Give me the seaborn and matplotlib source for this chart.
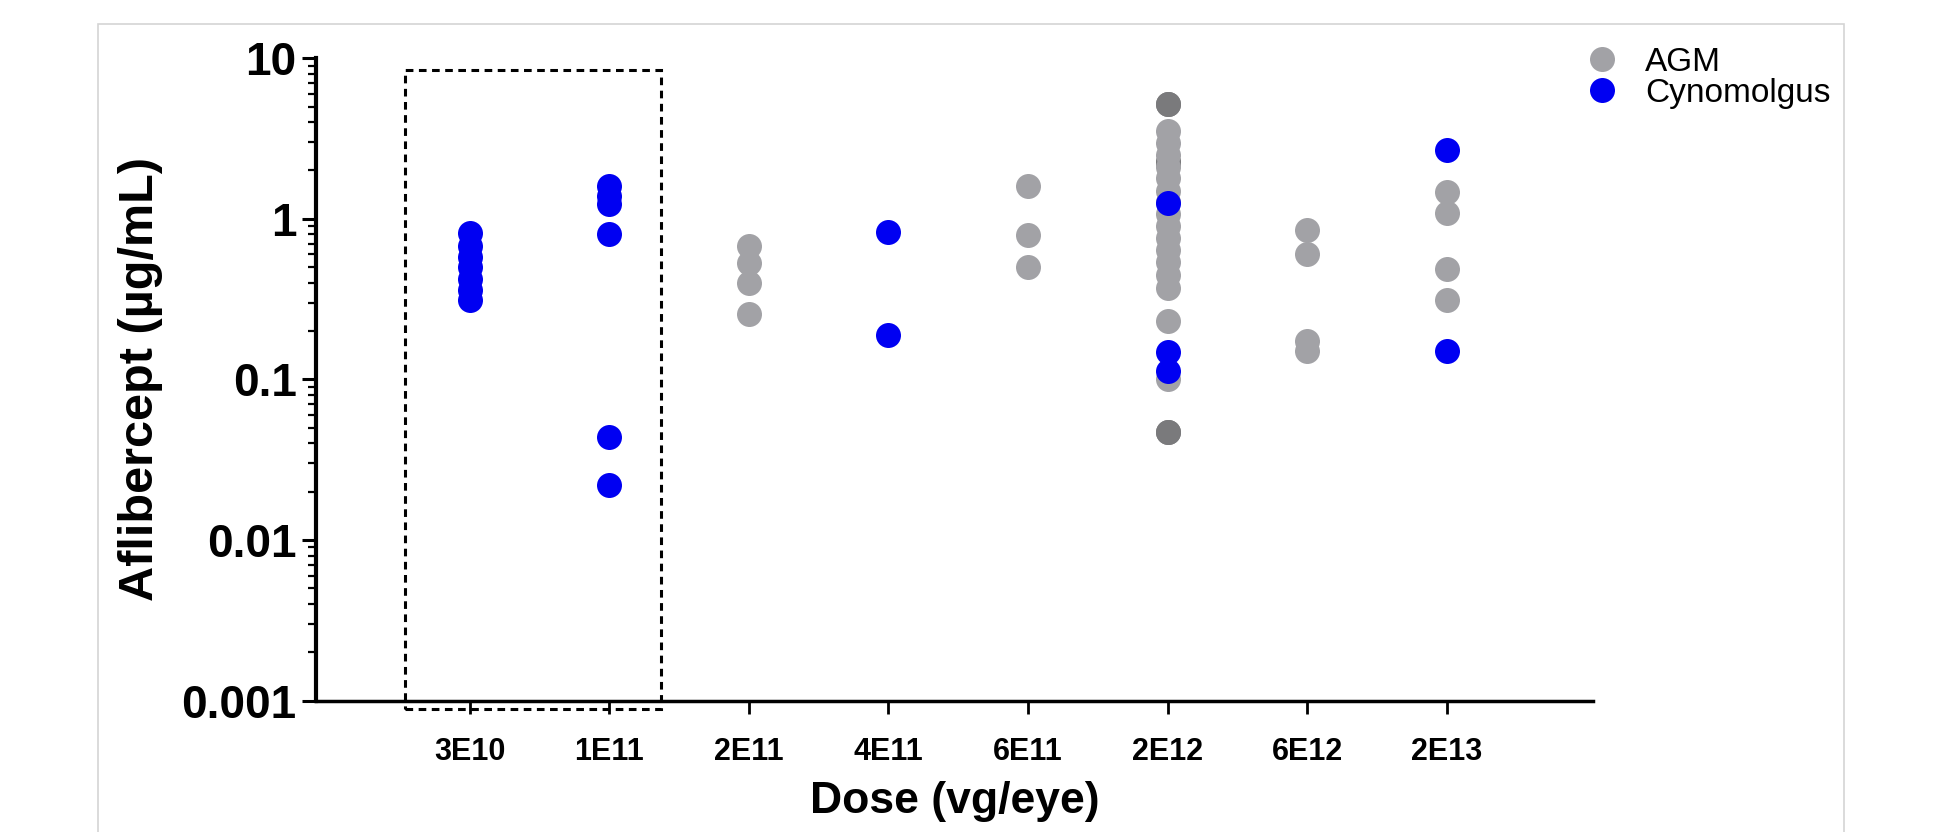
import numpy as np
import pandas as pd
import matplotlib
matplotlib.use("Agg")
import matplotlib.pyplot as plt
import matplotlib.ticker as ticker
from matplotlib import font_manager
from matplotlib.lines import Line2D
from matplotlib.patches import Rectangle
import seaborn as sns

# --- data ---
doses = ['3E10', '1E11', '2E11', '4E11', '6E11', '2E12', '6E12', '2E13']

cyno_3e10 = [0.82, 0.68, 0.58, 0.50, 0.42, 0.36, 0.31]
cyno_1e11 = [1.60, 1.39, 1.23, 0.81, 0.044, 0.022]
agm_2e11 = [0.68, 0.53, 0.40, 0.256]
cyno_4e11 = [0.83, 0.19]
agm_6e11 = [1.60, 0.79, 0.50]
agm_2e12 = [5.2, 5.2, 3.5, 2.95, 2.5, 2.25, 2.25, 2.1, 1.8, 1.5, 1.27, 1.07, 0.9,
            0.76, 0.64, 0.54, 0.45, 0.37, 0.23, 0.10, 0.047, 0.047]
cyno_2e12 = [1.25, 0.148, 0.113]
agm_6e12 = [0.85, 0.60, 0.173, 0.151]
agm_2e13 = [1.47, 1.08, 0.49, 0.31]
cyno_2e13 = [2.69, 0.151]

agm_groups = {'2E11': agm_2e11, '6E11': agm_6e11, '2E12': agm_2e12,
              '6E12': agm_6e12, '2E13': agm_2e13}
cyno_groups = {'3E10': cyno_3e10, '1E11': cyno_1e11, '4E11': cyno_4e11,
               '2E12': cyno_2e12, '2E13': cyno_2e13}

rows = []
for d, vals in agm_groups.items():
    rows += [(d, v, 'AGM') for v in vals]
for d, vals in cyno_groups.items():
    rows += [(d, v, 'Cynomolgus') for v in vals]
df = pd.DataFrame(rows, columns=['Dose', 'Aflibercept', 'Species'])
# repeated values sit on top of each other and show up darker
df['n'] = df.groupby(['Species', 'Dose', 'Aflibercept'])['Aflibercept'].transform('count')

# --- styling ---
sns.set_style("white")
names = {f.name for f in font_manager.fontManager.ttflist}
main_font = 'Liberation Sans' if 'Liberation Sans' in names else 'DejaVu Sans'
plt.rcParams['font.family'] = [main_font, 'DejaVu Sans']
plt.rcParams['text.color'] = 'black'
plt.rcParams['axes.labelcolor'] = 'black'
plt.rcParams['xtick.color'] = 'black'
plt.rcParams['ytick.color'] = 'black'

gray = '#a2a2a6'
dark_gray = '#7a7a7c'
blue = '#0000f2'
msize = 18

fig = plt.figure(figsize=(19.44, 8.32), dpi=100)
ax = fig.add_axes([0.1626, 0.158, 0.657, 0.772])

agm = df[df['Species'] == 'AGM']
sns.stripplot(data=agm[agm['n'] > 1], x='Dose', y='Aflibercept', order=doses,
              jitter=False, color=dark_gray, size=msize, linewidth=0, ax=ax, zorder=3)
sns.stripplot(data=agm[agm['n'] == 1], x='Dose', y='Aflibercept', order=doses,
              jitter=False, color=gray, size=msize, linewidth=0, ax=ax, zorder=3)
sns.stripplot(data=df[df['Species'] == 'Cynomolgus'], x='Dose', y='Aflibercept',
              order=doses, jitter=False, color=blue, size=msize,
              linewidth=0, ax=ax, zorder=4)

ax.set_yscale('log')
ax.set_ylim(0.001, 10)
ax.set_xlim(-1.1, 8.05)
ax.yaxis.set_major_locator(ticker.FixedLocator([0.001, 0.01, 0.1, 1, 10]))
ax.yaxis.set_major_formatter(ticker.FuncFormatter(lambda v, _: f'{v:g}'))
ax.yaxis.set_minor_locator(ticker.LogLocator(base=10, subs=np.arange(2, 10), numticks=20))
ax.yaxis.set_minor_formatter(ticker.NullFormatter())

for side in ['top', 'right']:
    ax.spines[side].set_visible(False)
ax.spines['left'].set_linewidth(3)
ax.spines['bottom'].set_linewidth(2.5)
ax.spines['left'].set_color('black')
ax.spines['bottom'].set_color('black')

ax.tick_params(axis='y', which='major', direction='out', length=10, width=2.2,
               left=True, labelsize=33, pad=4)
ax.tick_params(axis='y', which='minor', direction='out', length=6, width=1.6, left=True)
ax.tick_params(axis='x', which='major', direction='out', length=9, width=2,
               bottom=True, labelsize=22, pad=17)
for lab in ax.get_yticklabels() + ax.get_xticklabels():
    lab.set_fontweight('bold')

ax.set_xlabel('Dose (vg/eye)', fontsize=32, fontweight='bold', labelpad=10)
ax.set_ylabel('Aflibercept (µg/mL)', fontsize=35, fontweight='bold', labelpad=13)

# dashed box around the first two doses
box = Rectangle((-0.46, 0.00088), 1.83, 8.4 - 0.00088, fill=False,
                edgecolor='black', lw=2.2, linestyle=(0, (2.5, 1.8)),
                clip_on=False, zorder=5)
ax.add_patch(box)

handles = [Line2D([], [], marker='o', ls='', color=gray, markersize=msize,
                  markeredgewidth=0, label='AGM'),
           Line2D([], [], marker='o', ls='', color=blue, markersize=msize,
                  markeredgewidth=0, label='Cynomolgus')]
fig.legend(handles=handles, loc='upper left', bbox_to_anchor=(0.8, 0.96),
           frameon=False, fontsize=24, handletextpad=0.3, labelspacing=0.0,
           borderaxespad=0)

# thin frame around the figure
fig.patches.append(Rectangle((98 / 1944, -0.05), (1844 - 98) / 1944, 1.021,
                             transform=fig.transFigure, fill=False,
                             edgecolor='#d4d4d4', lw=1.2))

fig.savefig('out.png', dpi=100)
